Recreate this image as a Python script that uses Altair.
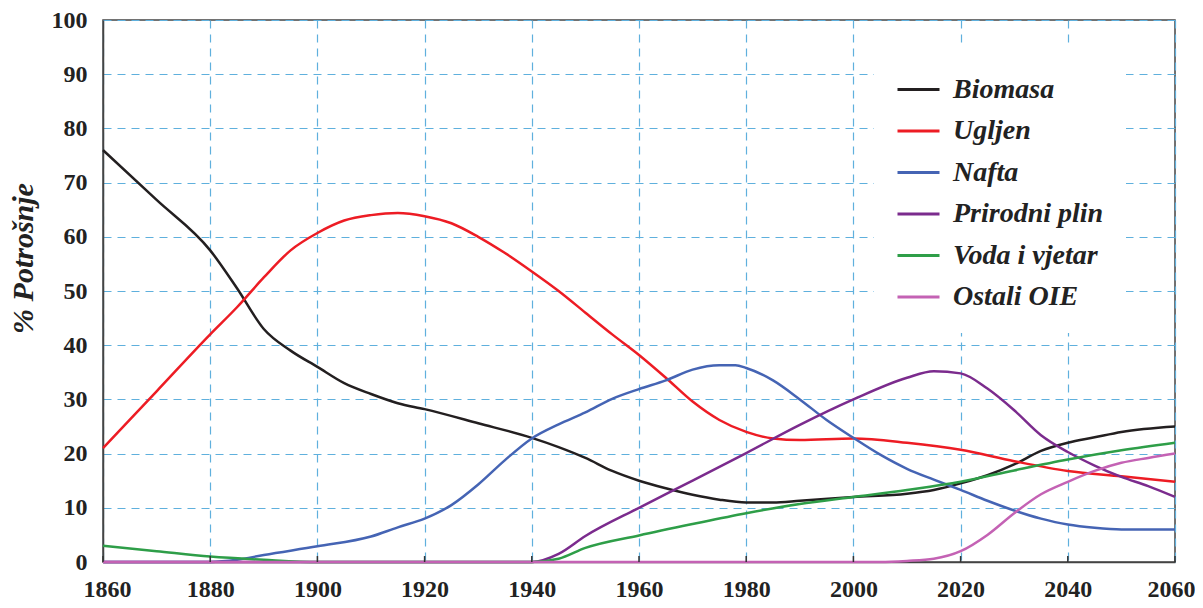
import altair as alt
import pandas as pd

names = ["Biomasa", "Ugljen", "Nafta", "Prirodni plin", "Voda i vjetar", "Ostali OIE"]
colors = ["#231f20", "#ed1c24", "#4564b4", "#7b2b8d", "#2e9e48", "#c462b4"]

bio_years = [1860, 1870, 1880, 1885, 1890, 1895, 1900, 1905, 1910, 1915, 1920, 1930, 1940, 1945, 1950, 1955,
             1960, 1965, 1970, 1975, 1980, 1985, 1990, 2000, 2010, 2015, 2020, 2025, 2030, 2035, 2040, 2045,
             2050, 2060]
bio_vals = [76, 66.8, 57.5, 50.5, 43, 39, 36, 33, 31, 29.3, 28.2, 25.6, 22.9, 21.2, 19.2, 16.8,
            15, 13.6, 12.4, 11.5, 11, 11, 11.3, 12, 12.6, 13.3, 14.5, 16, 18, 20.5, 22, 23,
            24, 25]

coal_years = [1860, 1870, 1880, 1885, 1890, 1895, 1900, 1905, 1910, 1915, 1920, 1925, 1930, 1935, 1940,
              1945, 1950, 1955, 1960, 1965, 1970, 1975, 1980, 1985, 1990, 2000, 2010, 2020, 2030, 2040,
              2050, 2060]
coal_vals = [21, 31.5, 42, 47, 52.5, 57.5, 60.7, 63, 64, 64.4, 63.8, 62.5, 60, 57, 53.6,
             50, 46, 42, 38.2, 34, 29.6, 26.2, 24, 22.8, 22.5, 22.8, 22, 20.7, 18.6, 16.8,
             15.8, 14.8]

oil_years = [1860, 1880, 1885, 1890, 1900, 1910, 1915, 1920, 1925, 1930, 1935, 1940, 1945, 1950, 1955,
             1960, 1965, 1970, 1975, 1978, 1980, 1985, 1990, 1995, 2000, 2005, 2010, 2015, 2020, 2025,
             2030, 2035, 2040, 2045, 2050, 2060]
oil_vals = [0, 0, 0.4, 1.3, 2.9, 4.7, 6.4, 8, 10.5, 14.3, 18.8, 22.8, 25.4, 27.6, 30.1,
            31.9, 33.5, 35.5, 36.3, 36.3, 35.8, 33.5, 30, 26.2, 22.9, 19.8, 17.2, 15.2, 13.3, 11.3,
            9.5, 8, 6.9, 6.3, 6, 6]

gas_years = [1860, 1940, 1945, 1950, 1960, 1970, 1980, 1990, 2000, 2010, 2015, 2020, 2025, 2030, 2035,
             2040, 2045, 2050, 2055, 2060]
gas_vals = [0, 0, 1.5, 4.8, 10, 15, 20.1, 25.3, 30, 34, 35.2, 34.8, 32, 28, 23.4,
            20.3, 17.8, 15.7, 14, 12]

hydro_years = [1860, 1870, 1880, 1890, 1900, 1940, 1945, 1950, 1960, 1970, 1980, 1990, 2000, 2010, 2020,
               2030, 2040, 2050, 2060]
hydro_vals = [3, 2, 1, 0.4, 0, 0, 0.6, 2.6, 4.9, 7, 9, 10.7, 12, 13.3, 14.8,
              16.9, 18.9, 20.6, 22]

oie_years = [1860, 2005, 2010, 2015, 2020, 2025, 2030, 2035, 2040, 2045, 2050, 2055, 2060]
oie_vals = [0, 0, 0.2, 0.6, 2, 5, 9, 12.5, 14.8, 16.8, 18.3, 19.2, 20]

tick_years = [1860, 1880, 1900, 1920, 1940, 1960, 1980, 2000, 2020, 2040, 2060]
y_ticks = [0, 10, 20, 30, 40, 50, 60, 70, 80, 90, 100]

series = [
    ("Biomasa", bio_years, bio_vals),
    ("Ugljen", coal_years, coal_vals),
    ("Nafta", oil_years, oil_vals),
    ("Prirodni plin", gas_years, gas_vals),
    ("Voda i vjetar", hydro_years, hydro_vals),
    ("Ostali OIE", oie_years, oie_vals),
]
rows = []
for i, (n, ys, vs) in enumerate(series):
    for y, v in zip(ys, vs):
        rows.append({"series": n, "year": y, "value": v, "k": i})
df = pd.DataFrame(rows)

FONT = "Liberation Serif"
GRID = "#5fb0dd"

x_scale = alt.Scale(domain=[1860, 2060], nice=False)
y_scale = alt.Scale(domain=[0, 100], nice=False)

lines = alt.Chart(df).mark_line(strokeWidth=2.5, interpolate="monotone").encode(
    x=alt.X("year:Q", scale=x_scale,
            axis=alt.Axis(values=tick_years, format="d", title=None, grid=True, gridDash=[8, 6],
                          gridColor=GRID, gridWidth=1.2, ticks=False, labelPadding=15,
                          labelFlush=True, labelFlushOffset=20,
                          labelFont=FONT, labelFontSize=24, labelFontWeight="bold", labelColor="#222",
                          domainColor="#444", domainWidth=1.5)),
    y=alt.Y("value:Q", scale=y_scale,
            axis=alt.Axis(values=y_ticks, title="% Potrošnje", grid=True, gridDash=[8, 6],
                          gridColor=GRID, gridWidth=1.2, ticks=False, labelPadding=16,
                          labelFlush=False,
                          labelFont=FONT, labelFontSize=24, labelFontWeight="bold", labelColor="#222",
                          titleFont=FONT, titleFontSize=30, titleFontStyle="italic",
                          titleFontWeight="bold", titleColor="#222", titleX=-65, titleY=238,
                          titleAlign="center", domainColor="#444", domainWidth=1.5)),
    color=alt.Color("series:N", scale=alt.Scale(domain=names, range=colors), sort=names,
                    legend=alt.Legend(title=None, orient="none", legendX=771, legendY=25,
                                      fillColor="white", padding=22, symbolType="stroke",
                                      symbolStrokeWidth=3, symbolSize=1764, labelFont=FONT,
                                      labelFontSize=28, labelFontStyle="italic",
                                      labelFontWeight="bold", labelColor="#222", labelOffset=12,
                                      rowPadding=4.5, labelLimit=400)),
    order=alt.Order("k:Q"),
)

ticks = alt.Chart(pd.DataFrame({"year": tick_years, "y0": [0] * len(tick_years),
                                "y1": [1.1] * len(tick_years)})).mark_rule(
    color="#333", strokeWidth=1.5).encode(
    x=alt.X("year:Q", scale=x_scale), y=alt.Y("y0:Q", scale=y_scale), y2="y1:Q")

chart = alt.layer(lines, ticks).properties(
    width=1072, height=542,
    autosize=alt.AutoSizeParams(type="none"),
    padding={"left": 95, "top": 12, "right": 20, "bottom": 38},
).configure_view(stroke="#444", strokeWidth=1.5)

chart.save("out.html", embed_options={"renderer": "svg", "actions": False})
